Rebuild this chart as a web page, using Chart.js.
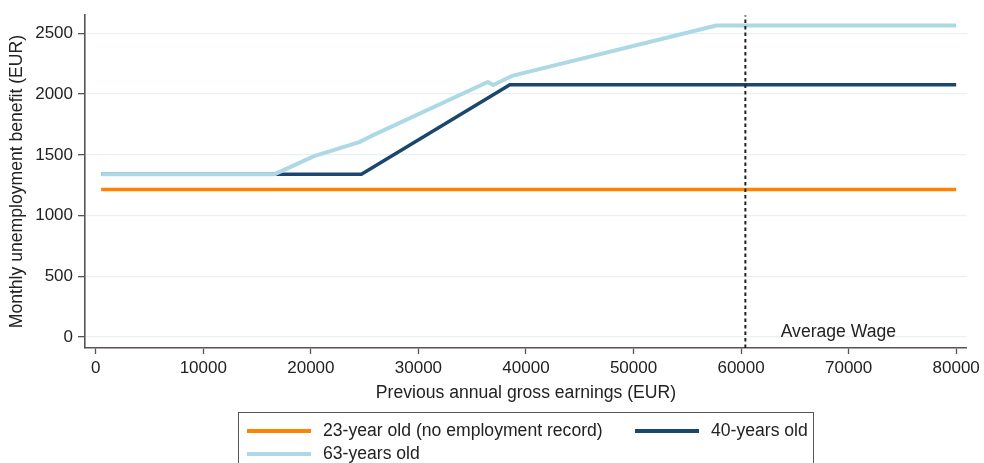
<!DOCTYPE html>
<html>
<head>
<meta charset="utf-8">
<script src="https://cdn.jsdelivr.net/npm/chart.js@4"></script>
<style>
  body { margin: 0; background: #fff; font-family: "Liberation Sans", Arial, sans-serif; }
  #wrap { position: relative; width: 984px; height: 463px; overflow: hidden; }
  #legende {
    position: absolute; left: 238px; top: 412px; width: 576px; height: 70px;
    border: 1px solid #555; box-sizing: border-box;
    display: grid; grid-template-columns: 388px auto; grid-auto-rows: 23px;
    padding: 6px 0 0 8px; color: #222; font-size: 17.6px;
  }
  .item { display: flex; align-items: center; }
  .swatch { width: 64px; height: 4px; margin-right: 12px; }
</style>
</head>
<body>
<div id="wrap">
  <canvas id="grafico" width="984" height="463"></canvas>
  <div id="legende"></div>
</div>
<script>
// datos
const xTicks = [0, 10000, 20000, 30000, 40000, 50000, 60000, 70000, 80000];
const yTicks = [0, 500, 1000, 1500, 2000, 2500];

const earnings23 = [500, 80000];
const benefit23 = [1215, 1215];

const earnings40 = [500, 24700, 38500, 80000];
const benefit40 = [1340, 1340, 2078, 2078];

const earnings63 = [500, 16600, 20300, 24500, 25500, 36450, 36950, 38700, 57700, 80000];
const benefit63 = [1340, 1340, 1490, 1605, 1650, 2100, 2075, 2150, 2565, 2565];

const averageWage = 60400;
const yMin = -90, yMax = 2650;

const puntos = (xs, ys) => xs.map((x, i) => ({ x: x, y: ys[i] }));

const fuente = "'Liberation Sans', Arial, sans-serif";

// texto "Average Wage" junto a la linea vertical
const textoMedia = {
  id: 'textoMedia',
  afterDatasetsDraw(chart) {
    const { ctx, scales } = chart;
    ctx.save();
    ctx.font = "17.6px " + fuente;
    ctx.fillStyle = '#222';
    ctx.textAlign = 'center';
    ctx.textBaseline = 'middle';
    ctx.fillText('Average Wage', scales.x.getPixelForValue(69050), scales.y.getPixelForValue(40));
    ctx.restore();
  }
};

const datasets = [
  { label: '23-year old (no employment record)', data: puntos(earnings23, benefit23),
    borderColor: '#ff8200', borderWidth: 3.5, order: 3 },
  { label: '40-years old', data: puntos(earnings40, benefit40),
    borderColor: '#1a476f', borderWidth: 3.5, order: 2 },
  { label: '63-years old', data: puntos(earnings63, benefit63),
    borderColor: '#acd9e5', borderWidth: 4, order: 1 },
  { label: 'media', data: [{ x: averageWage, y: yMin }, { x: averageWage, y: yMax }],
    borderColor: '#222', borderWidth: 2, borderDash: [3.5, 3], order: -1, enLeyenda: false }
];

const ctx = document.getElementById('grafico').getContext('2d');
const chart = new Chart(ctx, {
  type: 'line',
  data: { datasets: datasets },
  options: {
    responsive: false,
    animation: false,
    layout: { padding: { top: 11, right: 16, left: 0, bottom: 55 } },
    elements: { point: { radius: 0 }, line: { tension: 0, borderJoinStyle: 'round' } },
    plugins: { legend: { display: false }, tooltip: { enabled: false } },
    scales: {
      x: {
        type: 'linear', min: -1000, max: 81000,
        afterBuildTicks: s => { s.ticks = xTicks.map(v => ({ value: v })); },
        afterFit: s => { s.height = 60; },
        ticks: { color: '#222', font: { family: fuente, size: 17 }, padding: 4, maxRotation: 0,
                 callback: v => String(v) },
        grid: { drawOnChartArea: false, drawTicks: true, tickLength: 6, tickColor: '#555', tickWidth: 1.3 },
        border: { display: true, color: '#555', width: 1.6 },
        title: { display: true, text: 'Previous annual gross earnings (EUR)', color: '#222',
                 font: { family: fuente, size: 17.6 }, padding: { top: 0, bottom: 4 } }
      },
      y: {
        type: 'linear', min: yMin, max: yMax,
        afterBuildTicks: s => { s.ticks = yTicks.map(v => ({ value: v })); },
        afterFit: s => { s.width = 85; },
        ticks: { color: '#222', font: { family: fuente, size: 17 }, padding: 5,
                 callback: v => String(v) },
        grid: { color: '#eaf1f3', lineWidth: 1.3, drawTicks: true, tickLength: 7, tickColor: '#555', tickWidth: 1.3 },
        border: { display: true, color: '#555', width: 1.6 },
        title: { display: true, text: 'Monthly unemployment benefit (EUR)', color: '#222',
                 font: { family: fuente, size: 17.6 }, padding: { top: 7, bottom: 0 } }
      }
    }
  },
  plugins: [textoMedia]
});

// leyenda en html, construida desde los datasets
const leyenda = document.getElementById('legende');
chart.data.datasets.filter(d => d.enLeyenda !== false).forEach(d => {
  const item = document.createElement('div');
  item.className = 'item';
  item.innerHTML = '<span class="swatch" style="background:' + d.borderColor + '"></span>' + d.label;
  leyenda.appendChild(item);
});
</script>
</body>
</html>
